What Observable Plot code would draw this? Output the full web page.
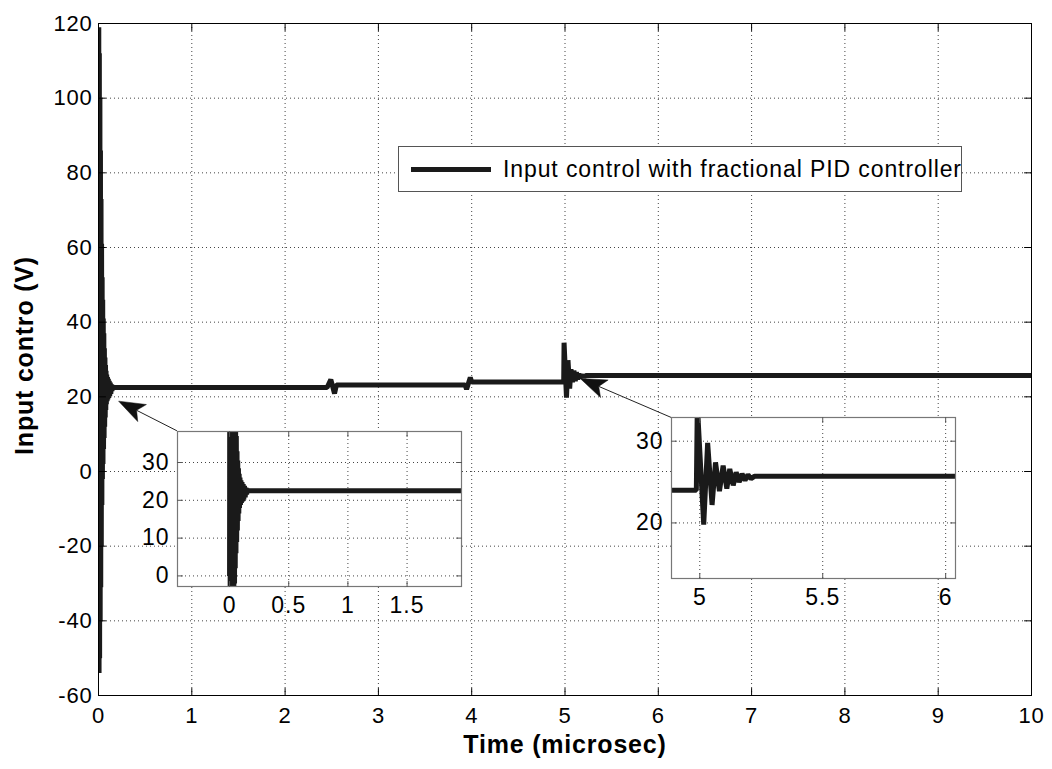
<!DOCTYPE html>
<html><head><meta charset="utf-8">
<script src="https://cdn.jsdelivr.net/npm/d3@7"></script>
<script src="https://cdn.jsdelivr.net/npm/@observablehq/plot@0.6"></script>
<style>
body{margin:0;background:#fff;}
#wrap{position:relative;width:1052px;height:769px;font-family:"Liberation Sans",Arial,Helvetica,sans-serif;}
#wrap > div{position:absolute;}
#legend{box-sizing:border-box;border:1px solid #555;background:#fff;}
#legend .swatch{position:absolute;left:12px;top:20px;width:80px;height:5px;background:#1a1a1a;}
#legend .lab{position:absolute;left:104px;top:0;line-height:44px;font-size:23px;letter-spacing:0.9px;color:#000;white-space:nowrap;}
</style></head><body><div id="wrap"></div>
<script>
const FONT = '"Liberation Sans", Arial, Helvetica, sans-serif';

// Time (microsec) and input control (V)
const time = [
  0, 0.003, 0.006, 0.009, 0.012, 0.015, 0.018, 0.021, 0.024, 0.027,
  0.030, 0.033, 0.036, 0.039, 0.042, 0.045, 0.048, 0.051, 0.054, 0.057,
  0.060, 0.063, 0.066, 0.069, 0.072, 0.075, 0.078, 0.081, 0.084, 0.088,
  0.092, 0.096, 0.100, 0.105, 0.110, 0.115, 0.120, 0.126, 0.132, 0.138,
  0.144, 0.150, 0.160,
  2.450, 2.490, 2.530, 2.550,
  3.930, 3.945, 3.985, 4.000,
  4.986, 4.990, 5.016, 5.032, 5.050, 5.064, 5.080, 5.095, 5.110, 5.122,
  5.136, 5.148, 5.160, 5.172, 5.184, 5.196, 5.208, 5.222,
  10
];
const volts = [
  0, 119, -54, 112, -50, 100, -40, 86, -31, 73,
  -20, 61, -9, 52, -2, 46, 2, 41, 6, 37,
  9, 33, 12, 30.5, 14.5, 28.5, 16.5, 27, 18, 26,
  18.8, 25.3, 19.3, 24.8, 19.7, 24.3, 20.2, 23.8, 20.8, 23.3,
  21.6, 22.8, 22.5,
  22.5, 24.6, 20.9, 23.2,
  23.2, 22.0, 25.2, 24.0,
  24.0, 34.5, 19.8, 29.8, 22.2, 27.4, 23.9, 27.0, 24.2, 26.6,
  24.6, 26.2, 25.0, 26.0, 25.2, 25.9, 25.4, 25.7,
  25.7
];

const xTicks = [0, 1, 2, 3, 4, 5, 6, 7, 8, 9, 10];
const yTicks = [-60, -40, -20, 0, 20, 40, 60, 80, 100, 120];
const xLabel = "Time (microsec)";
const yLabel = "Input contro (V)";
const legendLabel = "Input control with fractional PID controller";

// zoom insets
const inset1XDomain = [-0.44, 1.96];
const inset1YDomain = [-2.8, 38.2];
const inset1XTicks = [0, 0.5, 1, 1.5];
const inset1YTicks = [0, 10, 20, 30];
const inset2XDomain = [4.885, 6.04];
const inset2YDomain = [13.2, 32.9];
const inset2XTicks = [5, 5.5, 6];
const inset2YTicks = [20, 30];

// annotation arrows (tail at inset corner, tip at the transient), data units
const arrowTailT = [0.846, 6.143];
const arrowTailV = [10.77, 14.35];
const arrowTipT = [0.221, 5.168];
const arrowTipV = [18.71, 24.79];

const series = time.map((t, i) => ({t, v: volts[i]}));
const arrows = arrowTailT.map((t, i) => ({t1: t, v1: arrowTailV[i], t2: arrowTipT[i], v2: arrowTipV[i]}));
const fmt = d => String(d);

const tickShape = {draw(ctx, l) { ctx.moveTo(0, 0); ctx.lineTo(0, -l); }};
function inTicks(xt, yt, len, stroke) {
  const o = {length: len, anchor: "start", shape: tickShape, stroke, strokeWidth: 1};
  return [
    Plot.vector(xt, {...o, x: d => d, frameAnchor: "bottom", rotate: 0}),
    Plot.vector(xt, {...o, x: d => d, frameAnchor: "top", rotate: 180}),
    Plot.vector(yt, {...o, y: d => d, frameAnchor: "left", rotate: 90}),
    Plot.vector(yt, {...o, y: d => d, frameAnchor: "right", rotate: -90})
  ];
}
const gridStyle = {stroke: "#444", strokeOpacity: 1, strokeDasharray: "1,3", strokeWidth: 1};
const lineStyle = {x: "t", y: "v", stroke: "#1a1a1a", strokeWidth: 5, strokeLinejoin: "miter", strokeLinecap: "butt", clip: true, curve: "linear"};

// arrow with a filled, notched head (MATLAB style), drawn from the scaled channel values
function notchedArrows(index, scales, values) {
  const g = d3.create("svg:g");
  const L = 28, half = 20 * Math.PI / 180;
  for (const i of index) {
    const x1 = values.x1[i], y1 = values.y1[i], x2 = values.x2[i], y2 = values.y2[i];
    const a = Math.atan2(y1 - y2, x1 - x2);
    const p = (len, ang) => [x2 + len * Math.cos(ang), y2 + len * Math.sin(ang)];
    const n = p(L * 0.72, a), c1 = p(L, a + half), c2 = p(L, a - half);
    g.append("line").attr("x1", x1).attr("y1", y1).attr("x2", n[0]).attr("y2", n[1])
      .attr("stroke", "#222").attr("stroke-width", 1);
    g.append("path").attr("d", `M${x2},${y2}L${c1[0]},${c1[1]}L${n[0]},${n[1]}L${c2[0]},${c2[1]}Z`)
      .attr("fill", "#111").attr("stroke", "#111").attr("stroke-width", 0.5);
  }
  return g.node();
}

const wrap = document.getElementById("wrap");

const main = Plot.plot({
  width: 1052, height: 769,
  marginLeft: 98, marginRight: 21, marginTop: 23, marginBottom: 74,
  x: {domain: [0, 10], label: null},
  y: {domain: [-60, 120], label: null},
  style: {fontFamily: FONT, fontSize: "22px", color: "#000", background: "transparent", letterSpacing: "0.8px", overflow: "visible"},
  marks: [
    Plot.gridX(xTicks, gridStyle),
    Plot.gridY(yTicks, gridStyle),
    Plot.line(series, lineStyle),
    Plot.frame({stroke: "#000", strokeWidth: 1}),
    ...inTicks(xTicks, yTicks, 7, "#000"),
    Plot.arrow(arrows, {x1: "t1", y1: "v1", x2: "t2", y2: "v2", stroke: "#222", strokeWidth: 1, fill: "#111", headLength: 42, headAngle: 40, render: notchedArrows}),
    Plot.axisX(xTicks, {tickSize: 0, tickPadding: 12, fontSize: 22, label: null, tickFormat: fmt}),
    Plot.axisY(yTicks, {tickSize: 0, tickPadding: 6, fontSize: 22, label: null, tickFormat: fmt}),
    Plot.text([xLabel], {text: d => d, frameAnchor: "bottom", dy: 49, fontSize: 25, fontWeight: "bold", lineAnchor: "middle", textAnchor: "middle"}),
    Plot.text([yLabel], {text: d => d, frameAnchor: "left", dx: -74, dy: -4, rotate: -90, fontSize: 25, fontWeight: "bold", lineAnchor: "middle", textAnchor: "middle"})
  ]
});
const mainDiv = document.createElement("div");
mainDiv.style.left = "0px"; mainDiv.style.top = "0px";
mainDiv.appendChild(main);
wrap.appendChild(mainDiv);

function inset(xd, yd, xt, yt, w, h, left, top) {
  const p = Plot.plot({
    width: w, height: h,
    marginLeft: 60, marginRight: 10, marginTop: 5, marginBottom: 40,
    x: {domain: xd, label: null},
    y: {domain: yd, label: null},
    style: {fontFamily: FONT, fontSize: "23px", color: "#000", background: "transparent", letterSpacing: "1px", overflow: "visible"},
    marks: [
      Plot.frame({fill: "#fff", stroke: "none"}),
      Plot.gridX(xt, gridStyle),
      Plot.gridY(yt, gridStyle),
      Plot.line(series, lineStyle),
      Plot.frame({stroke: "#777", strokeWidth: 1.2}),
      ...inTicks(xt, yt, 5, "#555"),
      Plot.axisX(xt, {tickSize: 0, tickPadding: 10, fontSize: 23, label: null, tickFormat: fmt}),
      Plot.axisY(yt, {tickSize: 0, tickPadding: 8, fontSize: 23, label: null, tickFormat: fmt})
    ]
  });
  const d = document.createElement("div");
  d.style.left = left + "px"; d.style.top = top + "px";
  d.appendChild(p);
  wrap.appendChild(d);
}
inset(inset1XDomain, inset1YDomain, inset1XTicks, inset1YTicks, 354, 200, 117, 426);
inset(inset2XDomain, inset2YDomain, inset2XTicks, inset2YTicks, 354, 206, 611, 412);

const leg = document.createElement("div");
leg.id = "legend";
leg.style.left = "398px"; leg.style.top = "146px";
leg.style.width = "564px"; leg.style.height = "46px";
leg.innerHTML = '<div class="swatch"></div><div class="lab"></div>';
leg.querySelector(".lab").textContent = legendLabel;
wrap.appendChild(leg);
</script></body></html>
